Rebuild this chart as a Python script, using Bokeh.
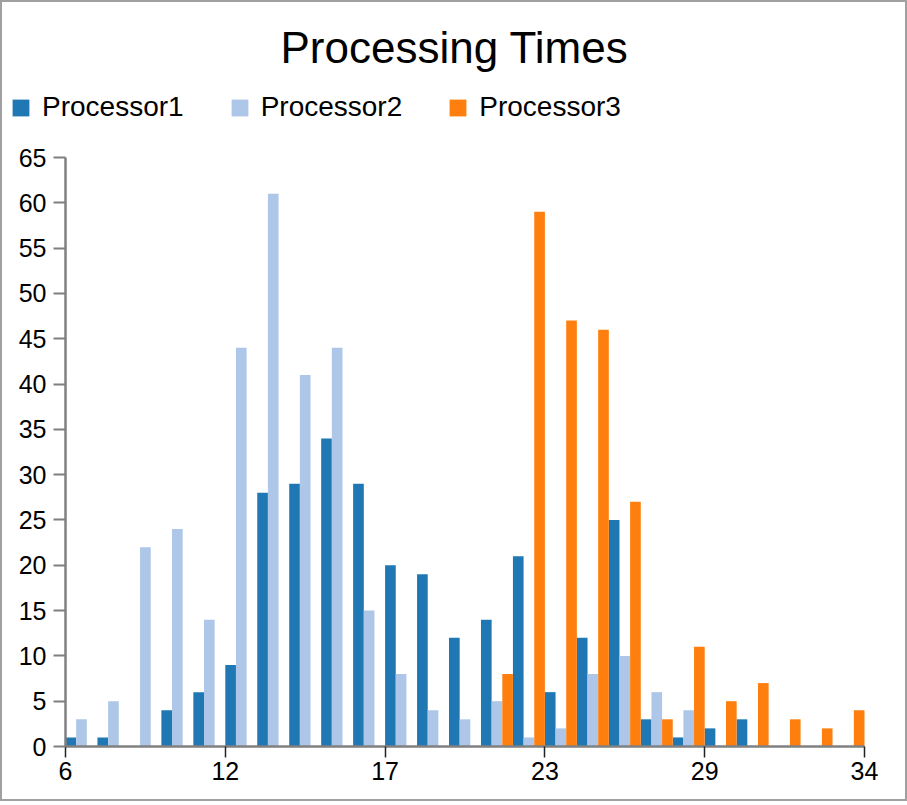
from bokeh.plotting import figure
from bokeh.models import Range1d, FixedTicker, Legend, LegendItem, ColumnDataSource, Label
from bokeh.embed import file_html
from bokeh.resources import INLINE

# ---- data (histogram of processing times, 25 bins from 6 to 34.25) ----
bin_starts = [6.00, 7.13, 8.26, 9.39, 10.52, 11.65, 12.78, 13.91, 15.04, 16.17,
              17.30, 18.43, 19.56, 20.69, 21.82, 22.95, 24.08, 25.21, 26.34, 27.47,
              28.60, 29.73, 30.86, 31.99, 33.12]
bin_width = 1.13
series_names = ["Processor1", "Processor2", "Processor3"]
processor1 = [1, 1, 0, 4, 6, 9, 28, 29, 34, 29, 20, 19, 12, 14, 21, 6, 12, 25, 3, 1, 2, 3, 0, 0, 0]
processor2 = [3, 5, 22, 24, 14, 44, 61, 41, 44, 15, 8, 4, 3, 5, 1, 2, 8, 10, 6, 4, 0, 0, 0, 0, 0]
processor3 = [0, 0, 0, 0, 0, 0, 0, 0, 0, 0, 0, 0, 0, 8, 59, 47, 46, 27, 3, 11, 5, 7, 3, 2, 4]
colors = ["#1f77b4", "#aec7e8", "#ff7f0e"]
x_domain = (6.0, 34.25)
y_domain = (0, 65)
x_tick_values = [6.0, 11.65, 17.3, 22.95, 28.6, 34.25]
x_tick_labels = ["6", "12", "17", "23", "29", "34"]
y_tick_values = [0, 5, 10, 15, 20, 25, 30, 35, 40, 45, 50, 55, 60, 65]
title_text = "Processing Times"

FONT = "Liberation Sans"

# layout (pixels inside the 2px border)
CANVAS_W, CANVAS_H = 903, 797
AX_LEFT, AX_RIGHT, AX_TOP, AX_BOTTOM = 63, 862, 155, 744   # where the axes sit
frame_w = CANVAS_W
frame_h = CANVAS_H
px_per_x = (AX_RIGHT - AX_LEFT) / (x_domain[1] - x_domain[0])
px_per_y = (AX_BOTTOM - AX_TOP) / (y_domain[1] - y_domain[0])
x_start = x_domain[0] - AX_LEFT / px_per_x
x_end = x_domain[1] + (CANVAS_W - AX_RIGHT) / px_per_x
y_end = y_domain[1] + AX_TOP / px_per_y
y_start = y_domain[0] - (CANVAS_H - AX_BOTTOM) / px_per_y

p = figure(frame_width=frame_w, frame_height=frame_h, output_backend="svg",
           toolbar_location=None, title_location=None,
           x_range=Range1d(x_start, x_end), y_range=Range1d(y_start, y_end),
           min_border_left=0, min_border_right=0, min_border_top=0, min_border_bottom=0)
p.styles = {"border": "2px solid #a0a0a0"}

series = [processor1, processor2, processor3]
items = []
for k, (name, vals, col) in enumerate(zip(series_names, series, colors)):
    xs = [b + (k + 0.5) * bin_width / 3 for b in bin_starts]
    src = ColumnDataSource(dict(x=xs, top=vals))
    r = p.vbar(x="x", top="top", bottom=0, width=bin_width / 3, source=src,
               fill_color=col, line_color=None)
    items.append(LegendItem(label=name, renderers=[r]))

legend = Legend(items=items, orientation="horizontal", location=(8, frame_h - 121),
                glyph_width=21, glyph_height=21, label_standoff=11, spacing=45,
                padding=0, margin=0, border_line_color=None, background_fill_alpha=0,
                label_text_font=FONT, label_text_font_size="28px", label_text_color="#000000")
p.add_layout(legend)

title = Label(x=452, y=frame_h - 45, x_units="screen", y_units="screen", text=title_text,
              text_font=FONT, text_font_size="44px", text_align="center",
              text_baseline="alphabetic", text_color="#000000")
p.add_layout(title)

p.xgrid.visible = False
p.ygrid.visible = False
p.outline_line_color = None

for ax in (p.xaxis[0], p.yaxis[0]):
    ax.axis_line_color = "#808080"
    ax.axis_line_width = 2.5
    ax.minor_tick_line_color = None
    ax.major_tick_in = 0
    ax.major_label_text_font = FONT
    ax.major_label_text_font_size = "25px"
    ax.major_label_text_color = "#000000"

p.xaxis[0].bounds = x_domain
p.xaxis[0].fixed_location = y_domain[0]
p.xaxis[0].ticker = FixedTicker(ticks=x_tick_values)
p.xaxis[0].major_label_overrides = {v: l for v, l in zip(x_tick_values, x_tick_labels)}
p.xaxis[0].major_tick_out = 11
p.xaxis[0].major_tick_line_color = "#222222"
p.xaxis[0].major_tick_line_width = 1.5
p.xaxis[0].major_label_standoff = 4

p.yaxis[0].bounds = y_domain
p.yaxis[0].fixed_location = x_domain[0]
p.yaxis[0].ticker = FixedTicker(ticks=y_tick_values)
p.yaxis[0].major_tick_out = 12
p.yaxis[0].major_tick_line_color = "#7f7f7f"
p.yaxis[0].major_tick_line_width = 2
p.yaxis[0].major_label_standoff = 7

open("out.html", "w").write(file_html(p, INLINE))
